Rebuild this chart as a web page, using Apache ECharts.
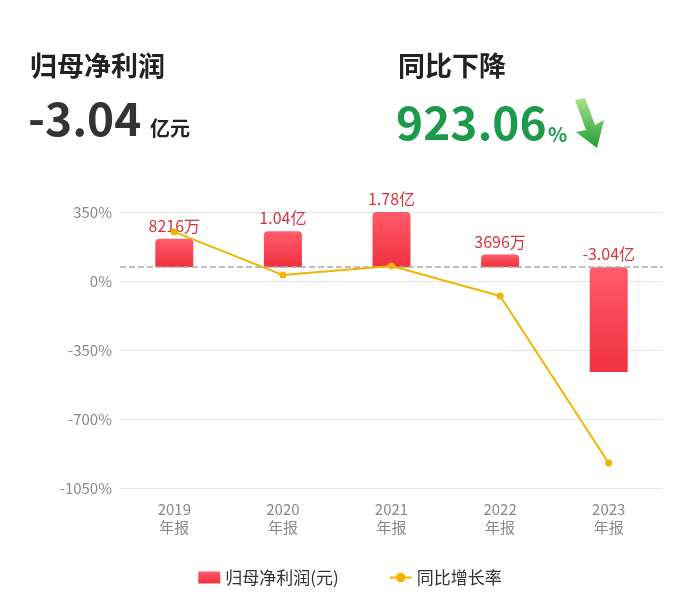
<!DOCTYPE html>
<html><head><meta charset="utf-8">
<script src="https://cdn.jsdelivr.net/npm/echarts@6/dist/echarts.min.js"></script>
<style>html,body{margin:0;padding:0;background:#fff}#c{width:700px;height:613px}</style>
</head><body><div id="c"></div>
<script>
const categories = ['2019\n年报','2020\n年报','2021\n年报','2022\n年报','2023\n年报'];
const profitYi = [0.8216, 1.04, 1.78, 0.3696, -3.04];
const profitLabels = ['8216万','1.04亿','1.78亿','3696万','-3.04亿'];
const growthPct = [249, 30, 76, -76, -923.06];
const pctTicks = [350, 0, -350, -700, -1050];

const chart = echarts.init(document.getElementById('c'));
const font = '"Noto Sans CJK SC", sans-serif';
chart.setOption({
  textStyle:{fontFamily:font},
  graphic:[
    {type:'text',left:30,top:52,style:{text:'归母净利润',font:'bold 27px '+font,fill:'#222'}},
    {type:'text',left:28,top:96,style:{text:'-3.04',font:'bold 46px '+font,fill:'#333'}},
    {type:'text',left:150,top:118,style:{text:'亿元',font:'bold 20px '+font,fill:'#222'}},
    {type:'text',left:398,top:52,style:{text:'同比下降',font:'bold 27px '+font,fill:'#222'}},
    {type:'text',left:396,top:100,style:{text:'923.06',font:'bold 46px '+font,fill:'#1a9a4a'}},
    {type:'text',left:548,top:124,style:{text:'%',font:'bold 20px '+font,fill:'#1a9a4a'}},
    {type:'polygon',shape:{points:[[575,100],[585,98],[595,125],[604,120],[597,148],[576,132],[586,130]]},
     style:{fill:new echarts.graphic.LinearGradient(0,0,0,1,[{offset:0,color:'#a8e08a'},{offset:1,color:'#1f9e36'}])}}
  ],
  grid:{left:120,right:37,top:212,bottom:125},
  legend:{bottom:22,left:'center',itemGap:50,textStyle:{fontSize:17,color:'#333'},
    data:[{name:'归母净利润(元)',icon:'rect'},{name:'同比增长率'}],itemWidth:22,itemHeight:12},
  xAxis:{type:'category',data:categories,axisLine:{show:false},axisTick:{show:false},
    axisLabel:{color:'#888',fontSize:15,lineHeight:18,margin:12}},
  yAxis:[
    {type:'value',min:-1050,max:350,interval:350,
     axisLabel:{formatter:v=>v+'%',color:'#888',fontSize:15},
     axisLine:{show:false},axisTick:{show:false},splitLine:{lineStyle:{color:'#e6e6e6'}}},
    {type:'value',min:-6.4,max:1.6,interval:1.6,alignTicks:false,show:false,splitLine:{show:false}}
  ],
  series:[
    {name:'归母净利润(元)',type:'bar',yAxisIndex:1,data:profitYi,barWidth:38,
     itemStyle:{color:new echarts.graphic.LinearGradient(0,0,0,1,[{offset:0,color:'#ff5c6a'},{offset:1,color:'#f0303f'}]),
       borderRadius:[4,4,0,0]},
     label:{show:true,position:'top',color:'#d8343f',fontSize:16,
       formatter:p=>profitLabels[p.dataIndex]},
     markLine:{silent:true,symbol:'none',label:{show:false},lineStyle:{type:'dashed',color:'#aaa',width:1.5},data:[{yAxis:0}]}
    },
    {name:'同比增长率',type:'line',yAxisIndex:0,data:growthPct,color:'#f0b400',
     symbol:'circle',symbolSize:7,lineStyle:{width:2},z:5}
  ]
});
</script></body></html>
